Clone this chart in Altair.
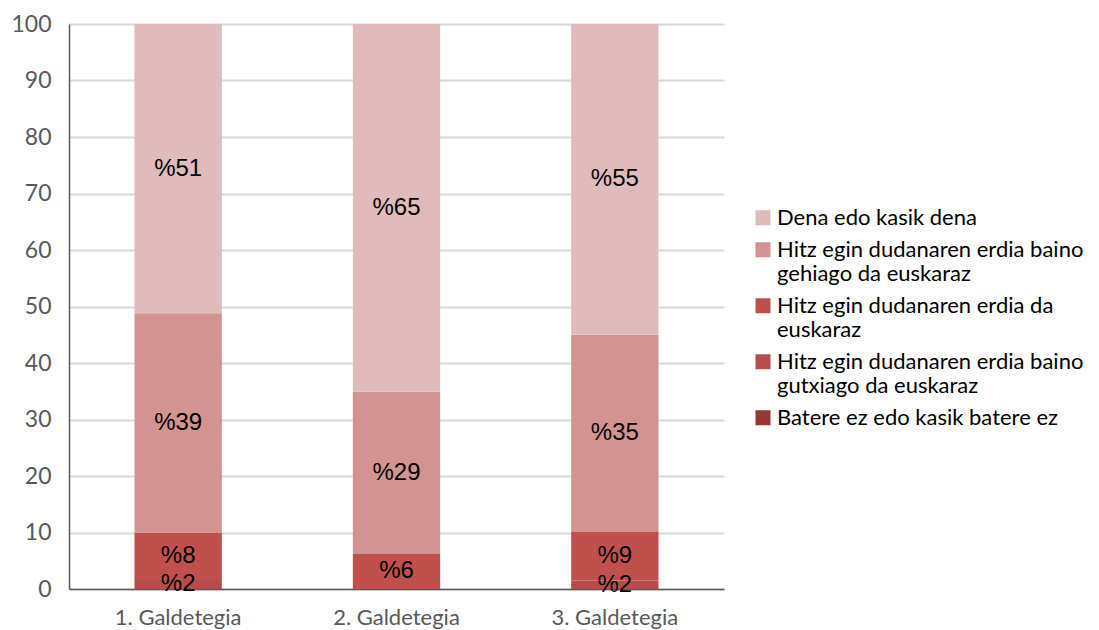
import altair as alt
import pandas as pd

categories = ["1. Galdetegia", "2. Galdetegia", "3. Galdetegia"]
series = [
    "Batere ez edo kasik batere ez",
    "Hitz egin dudanaren erdia baino gutxiago da euskaraz",
    "Hitz egin dudanaren erdia da euskaraz",
    "Hitz egin dudanaren erdia baino gehiago da euskaraz",
    "Dena edo kasik dena",
]
colors = ["#953735", "#b64d4b", "#c0504d", "#d39391", "#e0bbbb"]
batere = [0.0, 0.0, 0.0]
gutxiago = [1.6, 0.0, 1.5]
erdia = [8.4, 6.2, 8.6]
gehiago = [38.8, 28.7, 34.9]
dena = [51.2, 65.1, 55.0]

rows = []
for si, (name, vals) in enumerate(zip(series, [batere, gutxiago, erdia, gehiago, dena])):
    for c, v in zip(categories, vals):
        rows.append({"cat": c, "series": name, "value": v, "order": si})
df = pd.DataFrame(rows)

FONT = "Lato"
wrap = ("length(datum.label) > 30 ? "
        "[slice(datum.label, 0, lastindexof(slice(datum.label, 0, 32), ' ')), "
        "slice(datum.label, lastindexof(slice(datum.label, 0, 32), ' ') + 1)] : datum.label")

base = alt.Chart(df)

bars = base.mark_bar().encode(
    x=alt.X("cat:N", sort=categories, title=None,
            scale=alt.Scale(paddingInner=0.6, paddingOuter=0.3),
            axis=alt.Axis(labelAngle=0, labelFont=FONT, labelFontSize=22, labelColor="#595959",
                          ticks=False, domainColor="#595959", domainWidth=1.5, labelPadding=18)),
    y=alt.Y("value:Q", stack="zero", title=None,
            scale=alt.Scale(domain=[0, 100]),
            axis=alt.Axis(values=list(range(0, 101, 10)), labelFont=FONT, labelFontSize=23,
                          labelColor="#595959", ticks=False, labelPadding=18,
                          domainColor="#595959", domainWidth=1.5,
                          gridColor="#d9d9d9", gridWidth=2)),
    color=alt.Color("series:N", sort=series[::-1],
                    scale=alt.Scale(domain=series[::-1], range=colors[::-1]),
                    legend=alt.Legend(title=None, orient="none", legendX=683, legendY=173,
                                      symbolType="M-1,0.3H1V2.3H-1Z", symbolSize=225,
                                      symbolStrokeWidth=0,
                                      labelFont=FONT, labelFontSize=22, labelColor="#000000",
                                      labelBaseline="top",
                                      labelExpr=wrap, labelLimit=400, rowPadding=0,
                                      labelOffset=3)),
    order=alt.Order("order:Q"),
)

labels = base.transform_filter("datum.value > 0").transform_stack(
    stack="value", as_=["v0", "v1"], groupby=["cat"], sort=[alt.SortField("order")]
).transform_calculate(
    mid="(datum.v0 + datum.v1) / 2",
    txt="'%' + format(datum.value, '.0f')",
).mark_text(font="Liberation Sans", fontSize=24, color="#000000").encode(
    x=alt.X("cat:N", sort=categories),
    y=alt.Y("mid:Q"),
    text="txt:N",
)

chart = alt.layer(bars, labels).properties(
    width=655, height=565,
    padding={"left": 2, "top": 5, "right": 5, "bottom": 5},
).configure_view(stroke=None).configure_axis(grid=True).configure_axisX(grid=False)

chart.save("out.html", embed_options={"renderer": "svg", "actions": False})
